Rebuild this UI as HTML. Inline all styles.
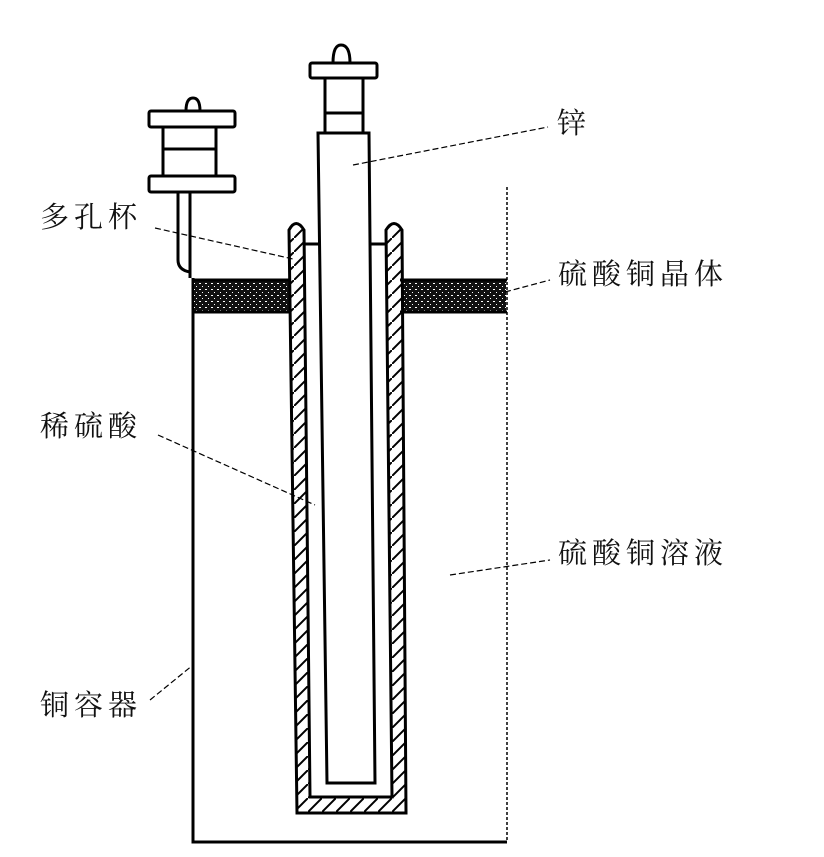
<!DOCTYPE html>
<html><head><meta charset="utf-8"><style>
html,body{margin:0;padding:0;background:#fff;width:824px;height:857px;overflow:hidden}
.t{position:absolute;font-family:"Liberation Serif","Noto Serif CJK SC",serif;font-size:29px;color:#111;letter-spacing:5px;white-space:nowrap}
</style></head><body>
<svg width="824" height="857" style="position:absolute;left:0;top:0">
<defs>
<pattern id="h" width="14" height="14" patternUnits="userSpaceOnUse">
<path d="M-2,16 L16,-2" stroke="#000" stroke-width="2"/>
</pattern>
<pattern id="c" width="6" height="6" patternUnits="userSpaceOnUse">
<rect width="6" height="6" fill="#111"/><rect x="1" y="1" width="2" height="1" fill="#fff"/><rect x="4" y="4" width="1" height="1" fill="#fff"/>
</pattern>
</defs>
<g fill="none" stroke="#000" stroke-width="3">
<!-- container -->
<path d="M193,278 L193,842 L507,842"/>
<path d="M507,187 L507,842" stroke-width="1.5" stroke-dasharray="3,2"/>
<!-- crystals -->
<rect x="194" y="280" width="95" height="32" fill="url(#c)" stroke="none"/>
<rect x="402" y="280" width="104" height="32" fill="url(#c)" stroke="none"/>
<line x1="193" y1="280" x2="290" y2="280"/><line x1="193" y1="312" x2="290" y2="312"/>
<line x1="400" y1="280" x2="507" y2="280"/><line x1="400" y1="312" x2="507" y2="312"/>
<!-- porous cup -->
<path d="M289,230 Q296,217 304,230 L310,797 L392,797 L386,230 Q394,217 402,230 L406,813 L297,813 Z" fill="url(#h)"/>
<!-- connectors -->
<line x1="304" y1="244" x2="321" y2="244"/><line x1="369" y1="244" x2="386" y2="244"/>
<!-- zinc rod -->
<path d="M318,133 L369,133 L375,783 L327,783 Z" fill="#fff"/>
<!-- cap -->
<rect x="325" y="78" width="38" height="55" fill="#fff"/>
<line x1="325" y1="113" x2="363" y2="113"/>
<rect x="310" y="63" width="67" height="15" rx="2" fill="#fff"/>
<path d="M333,63 Q333,45 341,45 Q350,45 350,63"/>
<!-- left terminal -->
<rect x="163" y="127" width="53" height="50"/>
<line x1="163" y1="149" x2="216" y2="149"/>
<rect x="149" y="111" width="86" height="16" rx="2" fill="#fff"/>
<rect x="149" y="176" width="86" height="16" rx="2" fill="#fff"/>
<path d="M186,111 Q186,98 193,98 Q200,98 200,111"/>
<path d="M178,192 L178,260 Q178,270 190,272 M190,192 L190,278"/>
</g>
<g fill="none" stroke="#000" stroke-width="1.2" stroke-dasharray="6,3">
<line x1="353" y1="165" x2="548" y2="127"/>
<line x1="155" y1="228" x2="293" y2="259"/>
<line x1="158" y1="435" x2="315" y2="505"/>
<line x1="505" y1="292" x2="550" y2="280"/>
<line x1="450" y1="575" x2="550" y2="560"/>
<line x1="150" y1="700" x2="193" y2="665"/>
</g>
</svg>
<div class="t" style="left:557px;top:101px">锌</div>
<div class="t" style="left:40px;top:195px">多孔杯</div>
<div class="t" style="left:558px;top:252px">硫酸铜晶体</div>
<div class="t" style="left:40px;top:404px">稀硫酸</div>
<div class="t" style="left:558px;top:531px">硫酸铜溶液</div>
<div class="t" style="left:40px;top:683px">铜容器</div>
</body></html>
